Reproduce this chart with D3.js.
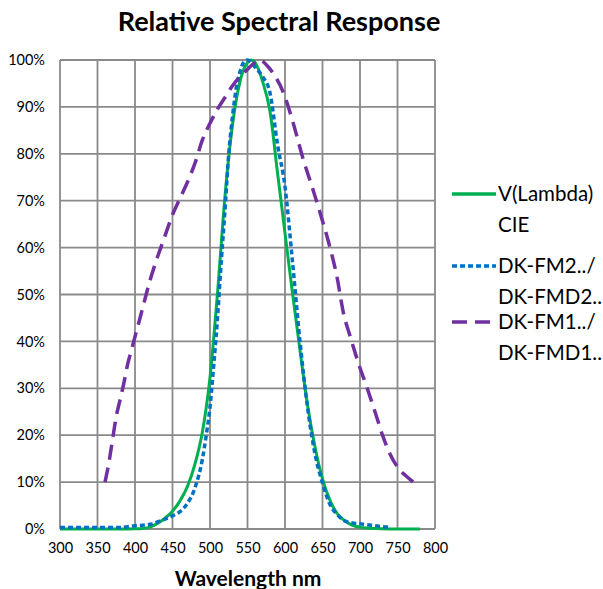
<!DOCTYPE html>
<html><head><meta charset="utf-8">
<script src="https://cdn.jsdelivr.net/npm/d3@7"></script>
<style>body{margin:0;background:#fff}svg{display:block}text{font-family:Lato,"Open Sans",sans-serif}</style>
</head><body>
<svg id="c" width="603" height="589"></svg>
<script>
const xTicks = [300,350,400,450,500,550,600,650,700,750,800];
const yTicks = [0,10,20,30,40,50,60,70,80,90,100];

const vLambdaNm  = [300,320,340,360,380,390,400,410,420,430,440,450,460,470,480,490,500,510,520,530,540,550,555,560,570,580,590,600,610,620,630,640,650,660,670,680,690,700,710,720,730,740,750,760,770,780];
const vLambdaVal = [0,0,0,0,0,0.01,0.04,0.12,0.4,1.2,2.3,3.8,6.0,9.1,13.9,20.8,32.3,50.3,71,86.2,95.4,99.5,100,99.5,95.5,89,76,63.1,50.3,38.1,26.5,17.5,10.7,6.1,3.2,1.7,0.8,0.4,0.2,0.1,0.05,0.02,0.01,0,0,0];

const fm2Nm  = [300,320,340,360,380,390,400,410,420,430,440,450,460,470,480,490,495,500,505,510,515,520,525,530,535,540,545,550,555,560,570,580,590,600,610,620,630,640,650,660,670,680,690,700,710,720,730,740];
const fm2Val = [0.3,0.3,0.3,0.3,0.3,0.5,0.7,0.8,1.0,1.5,2.1,2.8,3.7,5.5,8.8,15,20,26,35,45,57,68,80,88,94,97.5,99.5,100,99.5,98.5,96.5,93,82,73,57,40,26,16,9.8,5.2,3,1.7,1.3,1.1,0.9,0.7,0.5,0.4];

const fm1Nm  = [360,365,370,375,380,385,390,395,400,410,420,430,440,450,460,470,480,490,500,510,520,530,540,550,560,567,575,585,598,611,624,636,647,660,669,678,687,698,709,722,730,740,753,760,771];
const fm1Val = [10,14,19,24,27.5,31,35,38,41,47,53,58,62.5,67,70.5,74,78,83,86.5,89.5,92,94.5,96.5,98,99.5,100,99,97,93,86.5,79,73,67.3,60,54,46,41,35.3,30.3,24,20,16,12.6,11.5,10];

const svg = d3.select("#c");
const x = d3.scaleLinear().domain([300,800]).range([60,435]);
const y = d3.scaleLinear().domain([0,100]).range([529,60]);
const gridColor = "#8a8a8a";
const FONT = "Lato,'Open Sans',sans-serif";

// grid
svg.append("g").selectAll("line").data(xTicks).join("line")
  .attr("x1",d=>x(d)).attr("x2",d=>x(d)).attr("y1",y(0)).attr("y2",y(100))
  .attr("stroke",gridColor).attr("stroke-width",1.8);
svg.append("g").selectAll("line").data(yTicks).join("line")
  .attr("y1",d=>y(d)).attr("y2",d=>y(d)).attr("x1",x(300)).attr("x2",x(800))
  .attr("stroke",gridColor).attr("stroke-width",1.8);

// axes labels
const xAxis = d3.axisBottom(x).tickValues(xTicks).tickSize(0).tickPadding(14).tickFormat(d3.format("d"));
const gx = svg.append("g").attr("transform",`translate(0,${y(0)})`).call(xAxis);
gx.select(".domain").remove();
gx.selectAll("text").attr("font-size",14.5).attr("fill","#000").style("font-family",FONT);
const yAxis = d3.axisLeft(y).tickValues(yTicks).tickSize(0).tickPadding(15).tickFormat(d=>d+"%");
const gy = svg.append("g").attr("transform",`translate(${x(300)},0)`).call(yAxis);
gy.select(".domain").remove();
gy.selectAll("text").attr("font-size",14.5).attr("fill","#000").style("font-family",FONT);

// lines
const line = (nm, v) => d3.line().x((d,i)=>x(nm[i])).y(d=>y(d)).curve(d3.curveMonotoneX)(v);
const series = [
  {nm:vLambdaNm, v:vLambdaVal, color:"#00b050", dash:null, w:3},
  {nm:fm2Nm, v:fm2Val, color:"#0070c0", dash:"5,3", w:3.5},
  {nm:fm1Nm, v:fm1Val, color:"#7030a0", dash:"15,8", w:3.5}
];
svg.append("g").selectAll("path").data(series).join("path")
  .attr("d",s=>line(s.nm,s.v)).attr("fill","none")
  .attr("stroke",s=>s.color).attr("stroke-width",s=>s.w)
  .attr("stroke-dasharray",s=>s.dash).attr("stroke-linecap","butt");

// title
svg.append("text").attr("x",279).attr("y",31).attr("text-anchor","middle")
  .attr("font-size",27).attr("font-weight","bold").attr("fill","#000").text("Relative Spectral Response");
svg.append("text").attr("x",248).attr("y",586).attr("text-anchor","middle")
  .attr("font-size",21).attr("font-weight","bold").attr("fill","#000").text("Wavelength  nm");

// legend
const legend = [
  {lines:["V(Lambda)","CIE"], color:"#00b050", dash:null, y:194},
  {lines:["DK-FM2../","DK-FMD2.."], color:"#0070c0", dash:"5,3", y:266},
  {lines:["DK-FM1../","DK-FMD1.."], color:"#7030a0", dash:"15,8", y:322}
];
const lg = svg.append("g");
legend.forEach(l=>{
  lg.append("line").attr("x1",452).attr("x2",496).attr("y1",l.y).attr("y2",l.y)
    .attr("stroke",l.color).attr("stroke-width",3.5).attr("stroke-dasharray",l.dash);
  l.lines.forEach((t,i)=>{
    lg.append("text").attr("x",498).attr("y",l.y+7+i*31).attr("font-size",20.5).attr("fill","#000").text(t);
  });
});
</script>
</body></html>
